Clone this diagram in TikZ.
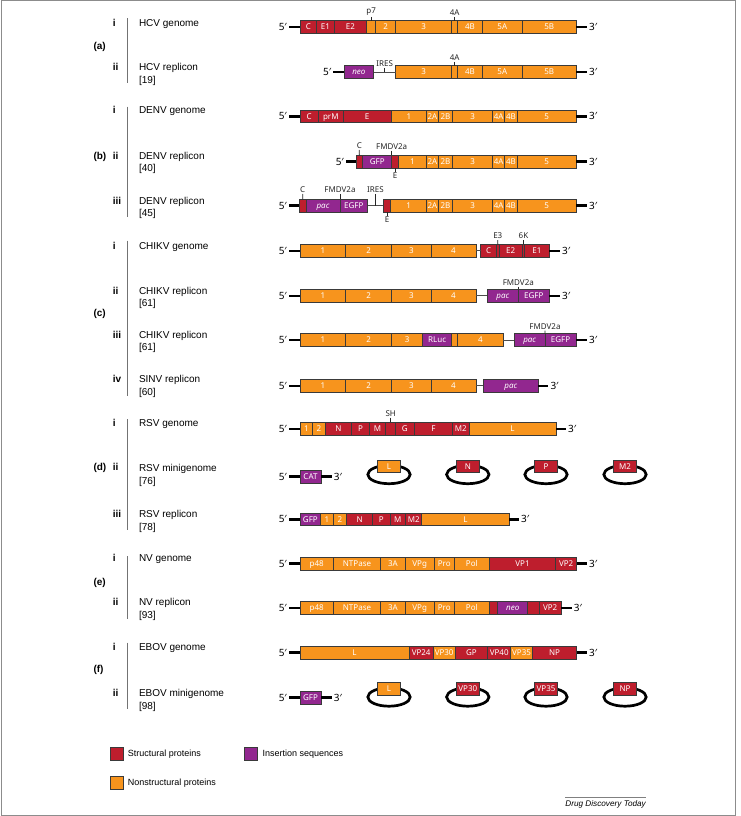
\documentclass[tikz,border=0pt]{standalone}
\usepackage{fontspec}
\setmainfont{Liberation Sans}
\newfontfamily\nsf{Noto Sans}
\usetikzlibrary{calc,shapes.geometric}
\definecolor{sred}{HTML}{BE1E2D}
\definecolor{sorg}{HTML}{F7941D}
\definecolor{spur}{HTML}{92278F}
\definecolor{segline}{HTML}{3A3A3A}
\newcommand\sg[6]{\pgfmathsetmacro\sgw{#3-#2}\node[sgbox,#5,minimum width=\sgw pt,anchor=west] (#1) at (#2,#4) {#6};}
\newcommand\plas[5]{\node[ring] (#1r) at (#2,#3+8.2) {};\node[pbox,#4] (#1b) at (#2,#3) {#5};}
\begin{document}
\begin{tikzpicture}[x=1pt,y=-1pt,
 sgbox/.style={draw=segline,line width=0.6pt,minimum height=12.7pt,inner sep=0pt,outer sep=0pt,text=white,font=\nsf\fontsize{8}{9}\selectfont,text height=5.8pt,text depth=0pt},
 R/.style={fill=sred}, O/.style={fill=sorg}, P/.style={fill=spur},
 pf/.style={font=\nsf\fontsize{10}{11}\selectfont,inner xsep=2pt,inner ysep=0pt,text height=7pt,text depth=0pt},
 bb/.style={line width=2.6pt,black},
 lnk/.style={line width=0.9pt,black!70},
 tk/.style={line width=0.8pt,black!85},
 lab/.style={font=\nsf\fontsize{8}{9}\selectfont,inner sep=1pt,text=black!85},
 ring/.style={ellipse,draw=black,line width=2.7pt,minimum width=42.4pt,minimum height=18.4pt,inner sep=0pt},
 pbox/.style={draw=segline,line width=0.6pt,minimum width=23pt,minimum height=12.5pt,inner sep=0pt,text=white,font=\nsf\fontsize{8}{9}\selectfont,text height=5.8pt,text depth=0pt},
 rn/.style={font=\fontsize{10}{12}\selectfont\bfseries,anchor=west,inner sep=0pt,text height=7.2pt,text depth=0pt},
 nm/.style={font=\fontsize{10}{12}\selectfont,anchor=west,inner sep=0pt,text height=7.2pt,text depth=0pt},
 vb/.style={line width=1.3pt,black!55},
 lg/.style={font=\fontsize{9}{11}\selectfont,anchor=west,inner sep=0pt,text height=6.5pt,text depth=0pt},
 lsq/.style={draw=segline,line width=0.7pt,minimum width=13.6pt,minimum height=13.6pt,inner sep=0pt}]
\useasboundingbox (0,0) rectangle (740,816);
\fill[white] (0,0) rectangle (740,816);
\draw[black!45,line width=0.8pt] (1.2,0.8) rectangle (735,815);

% ---------------- left labels ----------------
\node[rn] (la) at (93.3,45.7) {(a)};
\node[rn] (lai) at (112.7,22.7) {i};
\node[rn] (laii) at (112.7,66.7) {ii};
\draw[vb] (127.7,18.3) -- (127.7,82.7);
\node[nm] (tai) at (138.8,22.7) {HCV genome};
\node[nm] (taii) at (138.8,66.7) {HCV replicon};
\node[nm] (taiir) at (138.8,79.5) {[19]};

\node[rn] (lb) at (93.3,155.7) {(b)};
\node[rn] (lbi) at (112.7,110) {i};
\node[rn] (lbii) at (112.7,155.7) {ii};
\node[rn] (lbiii) at (112.7,201) {iii};
\draw[vb] (127.7,106.7) -- (127.7,217.3);
\node[nm] (tbi) at (138.8,110) {DENV genome};
\node[nm] (tbii) at (138.8,155.7) {DENV replicon};
\node[nm] (tbiir) at (138.8,167.5) {[40]};
\node[nm] (tbiii) at (138.8,201) {DENV replicon};
\node[nm] (tbiiir) at (138.8,213) {[45]};

\node[rn] (lc) at (93.3,313.3) {(c)};
\node[rn] (lci) at (112.7,245.7) {i};
\node[rn] (lcii) at (112.7,290.7) {ii};
\node[rn] (lciii) at (112.7,335.3) {iii};
\node[rn] (lciv) at (112.7,379.3) {iv};
\draw[vb] (127.7,240.7) -- (127.7,395.7);
\node[nm] (tci) at (138.8,245.7) {CHIKV genome};
\node[nm] (tcii) at (138.8,290.7) {CHIKV replicon};
\node[nm] (tciir) at (138.8,302.5) {[61]};
\node[nm] (tciii) at (138.8,335.3) {CHIKV replicon};
\node[nm] (tciiir) at (138.8,347.3) {[61]};
\node[nm] (tciv) at (138.8,379.3) {SINV replicon};
\node[nm] (tcivr) at (138.8,392) {[60]};

\node[rn] (ld) at (93.3,467.3) {(d)};
\node[rn] (ldi) at (112.7,423.3) {i};
\node[rn] (ldii) at (112.7,467.3) {ii};
\node[rn] (ldiii) at (112.7,514) {iii};
\draw[vb] (127.7,419.3) -- (127.7,530);
\node[nm] (tdi) at (138.8,423.3) {RSV genome};
\node[nm] (tdii) at (138.8,468) {RSV minigenome};
\node[nm] (tdiir) at (138.8,481) {[76]};
\node[nm] (tdiii) at (138.8,514) {RSV replicon};
\node[nm] (tdiiir) at (138.8,526.7) {[78]};

\node[rn] (le) at (93.3,581.7) {(e)};
\node[rn] (lei) at (112.7,558.3) {i};
\node[rn] (leii) at (112.7,602.3) {ii};
\draw[vb] (127.7,556) -- (127.7,619);
\node[nm] (tei) at (138.8,558.3) {NV genome};
\node[nm] (teii) at (138.8,602.3) {NV replicon};
\node[nm] (teiir) at (138.8,615) {[93]};

\node[rn] (lf) at (93.3,669.3) {(f)};
\node[rn] (lfi) at (112.7,646.7) {i};
\node[rn] (lfii) at (112.7,693) {ii};
\draw[vb] (127.7,642.7) -- (127.7,709);
\node[nm] (tfi) at (138.8,646.7) {EBOV genome};
\node[nm] (tfii) at (138.8,693) {EBOV minigenome};
\node[nm] (tfiir) at (138.8,706) {[98]};

% ---------------- (a) i HCV genome ----------------
\node[pf,anchor=east] (a1p) at (289,27) {5′};
\sg{a1c}{300}{316.7}{27}{R}{C}
\sg{a1e1}{316.7}{334.3}{27}{R}{E1}
\sg{a1e2}{334.3}{366.7}{27}{R}{E2}
\sg{a1p7}{366.7}{375.7}{27}{O}{}
\sg{a1n2}{375.7}{395.7}{27}{O}{2}
\sg{a1n3}{395.7}{451.7}{27}{O}{3}
\sg{a1n4a}{451.7}{457.7}{27}{O}{}
\sg{a1n4b}{457.7}{482.3}{27}{O}{4B}
\sg{a1n5a}{482.3}{522.3}{27}{O}{5A}
\sg{a1n5b}{522.3}{576}{27}{O}{5B}
\node[pf,anchor=west] (a1q) at (587,27) {3′};
\draw[bb] (a1p.east) -- (a1c.west);
\draw[bb] (a1n5b.east) -- (a1q.west);
\node[lab,anchor=south] (a1lp7) at (371.2,17) {p7};
\draw[tk] (a1lp7.south) -- (a1p7.north);
\node[lab,anchor=south] (a1l4a) at (454.7,17) {4A};
\draw[tk] (a1l4a.south) -- (a1n4a.north);

% ---------------- (a) ii HCV replicon ----------------
\node[pf,anchor=east] (a2p) at (333.3,72) {5′};
\sg{a2neo}{344}{373.7}{72}{P}{\itshape neo}
\sg{a2n3}{395.7}{451.7}{72}{O}{3}
\sg{a2n4a}{451.7}{457.7}{72}{O}{}
\sg{a2n4b}{457.7}{482.3}{72}{O}{4B}
\sg{a2n5a}{482.3}{522.3}{72}{O}{5A}
\sg{a2n5b}{522.3}{576}{72}{O}{5B}
\node[pf,anchor=west] (a2q) at (587,72) {3′};
\draw[bb] (a2p.east) -- (a2neo.west);
\draw[bb] (a2n5b.east) -- (a2q.west);
\draw[lnk] (a2neo.east) -- (a2n3.west);
\coordinate (a2mid) at ($(a2neo.east)!0.5!(a2n3.west)$);
\node[lab,anchor=south] (a2lires) at ($(a2mid)+(0,-4)$) {IRES};
\draw[tk] (a2lires.south) -- (a2mid);
\node[lab,anchor=south] (a2l4a) at (454.7,62) {4A};
\draw[tk] (a2l4a.south) -- (a2n4a.north);

% ---------------- (b) i DENV genome ----------------
\node[pf,anchor=east] (b1p) at (289,116.3) {5′};
\sg{b1c}{300}{318.3}{116.3}{R}{C}
\sg{b1prm}{318.3}{343.3}{116.3}{R}{prM}
\sg{b1e}{343.3}{391}{116.3}{R}{E}
\sg{b1n1}{391}{426.7}{116.3}{O}{1}
\sg{b1n2a}{426.7}{438.3}{116.3}{O}{2A}
\sg{b1n2b}{438.3}{452.7}{116.3}{O}{2B}
\sg{b1n3}{452.7}{492.7}{116.3}{O}{3}
\sg{b1n4a}{492.7}{504.7}{116.3}{O}{4A}
\sg{b1n4b}{504.7}{517.3}{116.3}{O}{4B}
\sg{b1n5}{517.3}{576}{116.3}{O}{5}
\node[pf,anchor=west] (b1q) at (587,116.3) {3′};
\draw[bb] (b1p.east) -- (b1c.west);
\draw[bb] (b1n5.east) -- (b1q.west);

% ---------------- (b) ii DENV replicon [40] ----------------
\node[pf,anchor=east] (b2p) at (346,161.7) {5′};
\sg{b2c}{356}{362.7}{161.7}{R}{}
\sg{b2gfp}{362.7}{391.7}{161.7}{P}{GFP}
\sg{b2e}{391.7}{398.3}{161.7}{R}{}
\sg{b2n1}{398.3}{426.7}{161.7}{O}{1}
\sg{b2n2a}{426.7}{438.3}{161.7}{O}{2A}
\sg{b2n2b}{438.3}{452.7}{161.7}{O}{2B}
\sg{b2n3}{452.7}{492.7}{161.7}{O}{3}
\sg{b2n4a}{492.7}{504.7}{161.7}{O}{4A}
\sg{b2n4b}{504.7}{517.3}{161.7}{O}{4B}
\sg{b2n5}{517.3}{576}{161.7}{O}{5}
\node[pf,anchor=west] (b2q) at (587,161.7) {3′};
\draw[bb] (b2p.east) -- (b2c.west);
\draw[bb] (b2n5.east) -- (b2q.west);
\node[lab,anchor=south] (b2lc) at (359.3,150) {C};
\draw[tk] (b2lc.south) -- (b2c.north);
\node[lab,anchor=south] (b2lfm) at (391.7,150.5) {FMDV2a};
\draw[tk] (b2lfm.south) -- (b2gfp.north east);
\node[lab,anchor=north] (b2le) at (395,172) {E};
\draw[tk] (b2e.south) -- (b2le.north);

% ---------------- (b) iii DENV replicon [45] ----------------
\node[pf,anchor=east] (b3p) at (289,205.7) {5′};
\sg{b3c}{299.3}{306}{205.7}{R}{}
\sg{b3pac}{306}{340}{205.7}{P}{\itshape pac}
\sg{b3egfp}{340}{367.7}{205.7}{P}{EGFP}
\sg{b3e}{383.3}{390.7}{205.7}{R}{}
\sg{b3n1}{390.7}{426.7}{205.7}{O}{1}
\sg{b3n2a}{426.7}{438.3}{205.7}{O}{2A}
\sg{b3n2b}{438.3}{452.7}{205.7}{O}{2B}
\sg{b3n3}{452.7}{492.7}{205.7}{O}{3}
\sg{b3n4a}{492.7}{504.7}{205.7}{O}{4A}
\sg{b3n4b}{504.7}{517.3}{205.7}{O}{4B}
\sg{b3n5}{517.3}{576}{205.7}{O}{5}
\node[pf,anchor=west] (b3q) at (587,205.7) {3′};
\draw[bb] (b3p.east) -- (b3c.west);
\draw[bb] (b3n5.east) -- (b3q.west);
\draw[lnk] (b3egfp.east) -- (b3e.west);
\coordinate (b3mid) at ($(b3egfp.east)!0.5!(b3e.west)$);
\node[lab,anchor=south] (b3lc) at (302.7,194) {C};
\draw[tk] (b3lc.south) -- (b3c.north);
\node[lab,anchor=south] (b3lfm) at (340,194) {FMDV2a};
\draw[tk] (b3lfm.south) -- (b3pac.north east);
\node[lab,anchor=south] (b3lires) at ($(b3mid)+(0,-11.7)$) {IRES};
\draw[tk] (b3lires.south) -- (b3mid);
\node[lab,anchor=north] (b3le) at (387,216) {E};
\draw[tk] (b3e.south) -- (b3le.north);

% ---------------- (c) i CHIKV genome ----------------
\node[pf,anchor=east] (c1p) at (289,250.8) {5′};
\sg{c1n1}{300}{345.7}{250.8}{O}{1}
\sg{c1n2}{345.7}{391.7}{250.8}{O}{2}
\sg{c1n3}{391.7}{431}{250.8}{O}{3}
\sg{c1n4}{431}{476}{250.8}{O}{4}
\sg{c1c}{480.7}{496.7}{250.8}{R}{C}
\sg{c1e3}{496.7}{499}{250.8}{R}{}
\sg{c1e2}{499}{522.3}{250.8}{R}{E2}
\sg{c1k6}{522.3}{524.7}{250.8}{R}{}
\sg{c1e1}{524.7}{549.3}{250.8}{R}{E1}
\node[pf,anchor=west] (c1q) at (560,250.8) {3′};
\draw[bb] (c1p.east) -- (c1n1.west);
\draw[bb] (c1e1.east) -- (c1q.west);
\draw[lnk] (c1n4.east) -- (c1c.west);
\node[lab,anchor=south] (c1le3) at (497.8,240) {E3};
\draw[tk] (c1le3.south) -- (c1e3.north);
\node[lab,anchor=south] (c1l6k) at (523.5,240) {6K};
\draw[tk] (c1l6k.south) -- (c1k6.north);

% ---------------- (c) ii CHIKV replicon ----------------
\node[pf,anchor=east] (c2p) at (289,295.8) {5′};
\sg{c2n1}{300}{345.7}{295.8}{O}{1}
\sg{c2n2}{345.7}{391.7}{295.8}{O}{2}
\sg{c2n3}{391.7}{431}{295.8}{O}{3}
\sg{c2n4}{431}{476}{295.8}{O}{4}
\sg{c2pac}{487.3}{518.3}{295.8}{P}{\itshape pac}
\sg{c2egfp}{518.3}{549.3}{295.8}{P}{EGFP}
\node[pf,anchor=west] (c2q) at (560,295.8) {3′};
\draw[bb] (c2p.east) -- (c2n1.west);
\draw[bb] (c2egfp.east) -- (c2q.west);
\draw[lnk] (c2n4.east) -- (c2pac.west);
\node[lab,anchor=south] (c2lfm) at (518.3,286.5) {FMDV2a};
\draw[tk] (c2lfm.south) -- (c2pac.north east);

% ---------------- (c) iii CHIKV replicon ----------------
\node[pf,anchor=east] (c3p) at (289,340) {5′};
\sg{c3n1}{300}{345.7}{340}{O}{1}
\sg{c3n2}{345.7}{391.7}{340}{O}{2}
\sg{c3n3}{391.7}{422.7}{340}{O}{3}
\sg{c3rl}{422.7}{451.7}{340}{P}{RLuc}
\sg{c3sm}{451.7}{457.7}{340}{O}{}
\sg{c3n4}{457.7}{503.3}{340}{O}{4}
\sg{c3pac}{514.3}{545}{340}{P}{\itshape pac}
\sg{c3egfp}{545}{576}{340}{P}{EGFP}
\node[pf,anchor=west] (c3q) at (587,340) {3′};
\draw[bb] (c3p.east) -- (c3n1.west);
\draw[bb] (c3egfp.east) -- (c3q.west);
\draw[lnk] (c3n4.east) -- (c3pac.west);
\node[lab,anchor=south] (c3lfm) at (545,330.7) {FMDV2a};
\draw[tk] (c3lfm.south) -- (c3pac.north east);

% ---------------- (c) iv SINV replicon ----------------
\node[pf,anchor=east] (c4p) at (289,385.8) {5′};
\sg{c4n1}{300}{345.7}{385.8}{O}{1}
\sg{c4n2}{345.7}{391.7}{385.8}{O}{2}
\sg{c4n3}{391.7}{431}{385.8}{O}{3}
\sg{c4n4}{431}{476}{385.8}{O}{4}
\sg{c4pac}{483.3}{538.3}{385.8}{P}{\itshape pac}
\node[pf,anchor=west] (c4q) at (548.3,385.8) {3′};
\draw[bb] (c4p.east) -- (c4n1.west);
\draw[bb] (c4pac.east) -- (c4q.west);
\draw[lnk] (c4n4.east) -- (c4pac.west);

% ---------------- (d) i RSV genome ----------------
\node[pf,anchor=east] (d1p) at (289,428.8) {5′};
\sg{d1n1}{300}{312.7}{428.8}{O}{1}
\sg{d1n2}{312.7}{325}{428.8}{O}{2}
\sg{d1n}{325}{351.7}{428.8}{R}{N}
\sg{d1pp}{351.7}{369.3}{428.8}{R}{P}
\sg{d1m}{369.3}{385.7}{428.8}{R}{M}
\sg{d1sh}{385.7}{395.7}{428.8}{R}{}
\sg{d1g}{395.7}{414}{428.8}{R}{G}
\sg{d1f}{414}{452.7}{428.8}{R}{F}
\sg{d1m2}{452.7}{469}{428.8}{R}{M2}
\sg{d1l}{469}{556}{428.8}{O}{L}
\node[pf,anchor=west] (d1q) at (566,428.8) {3′};
\draw[bb] (d1p.east) -- (d1n1.west);
\draw[bb] (d1l.east) -- (d1q.west);
\node[lab,anchor=south] (d1lsh) at (390.7,417.5) {SH};
\draw[tk] (d1lsh.south) -- (d1sh.north);

% ---------------- (d) ii RSV minigenome ----------------
\node[pf,anchor=east] (d2p) at (289,476.5) {5′};
\sg{d2cat}{300}{321}{476.5}{P}{CAT}
\node[pf,anchor=west] (d2q) at (331.7,476.5) {3′};
\draw[bb] (d2p.east) -- (d2cat.west);
\draw[bb] (d2cat.east) -- (d2q.west);
\plas{d2l}{389}{466.3}{O}{L}
\plas{d2n}{467.8}{466.3}{R}{N}
\plas{d2pp}{546}{466.3}{R}{P}
\plas{d2m}{625}{466.3}{R}{M2}

% ---------------- (d) iii RSV replicon ----------------
\node[pf,anchor=east] (d3p) at (289,519.2) {5′};
\sg{d3gfp}{300}{320.7}{519.2}{P}{GFP}
\sg{d3n1}{320.7}{333.3}{519.2}{O}{1}
\sg{d3n2}{333.3}{346.7}{519.2}{O}{2}
\sg{d3n}{346.7}{372.7}{519.2}{R}{N}
\sg{d3pp}{372.7}{390}{519.2}{R}{P}
\sg{d3m}{390}{405.7}{519.2}{R}{M}
\sg{d3m2}{405.7}{421.7}{519.2}{R}{M2}
\sg{d3l}{421.7}{509}{519.2}{O}{L}
\node[pf,anchor=west] (d3q) at (519,519.2) {3′};
\draw[bb] (d3p.east) -- (d3gfp.west);
\draw[bb] (d3l.east) -- (d3q.west);

% ---------------- (e) i NV genome ----------------
\node[pf,anchor=east] (e1p) at (289,563.7) {5′};
\sg{e1p48}{300}{333.3}{563.7}{O}{p48}
\sg{e1nt}{333.3}{380.7}{563.7}{O}{NTPase}
\sg{e1a3}{380.7}{405}{563.7}{O}{3A}
\sg{e1vpg}{405}{434.3}{563.7}{O}{VPg}
\sg{e1pro}{434.3}{454.3}{563.7}{O}{Pro}
\sg{e1pol}{454.3}{489.3}{563.7}{O}{Pol}
\sg{e1vp1}{489.3}{555.7}{563.7}{R}{VP1}
\sg{e1vp2}{555.7}{576.7}{563.7}{R}{VP2}
\node[pf,anchor=west] (e1q) at (587,563.7) {3′};
\draw[bb] (e1p.east) -- (e1p48.west);
\draw[bb] (e1vp2.east) -- (e1q.west);

% ---------------- (e) ii NV replicon ----------------
\node[pf,anchor=east] (e2p) at (289,608) {5′};
\sg{e2p48}{300}{333.3}{608}{O}{p48}
\sg{e2nt}{333.3}{380.7}{608}{O}{NTPase}
\sg{e2a3}{380.7}{405}{608}{O}{3A}
\sg{e2vpg}{405}{434.3}{608}{O}{VPg}
\sg{e2pro}{434.3}{454.3}{608}{O}{Pro}
\sg{e2pol}{454.3}{489.3}{608}{O}{Pol}
\sg{e2r1}{489.3}{497.7}{608}{R}{}
\sg{e2neo}{497.7}{527.7}{608}{P}{\itshape neo}
\sg{e2r2}{527.7}{539.3}{608}{R}{}
\sg{e2vp2}{539.3}{561}{608}{R}{VP2}
\node[pf,anchor=west] (e2q) at (571.7,608) {3′};
\draw[bb] (e2p.east) -- (e2p48.west);
\draw[bb] (e2vp2.east) -- (e2q.west);

% ---------------- (f) i EBOV genome ----------------
\node[pf,anchor=east] (f1p) at (289,652.7) {5′};
\sg{f1l}{300}{409}{652.7}{O}{L}
\sg{f1vp24}{409}{433.3}{652.7}{R}{VP24}
\sg{f1vp30}{433.3}{455}{652.7}{O}{VP30}
\sg{f1gp}{455}{487.7}{652.7}{R}{GP}
\sg{f1vp40}{487.7}{510.7}{652.7}{R}{VP40}
\sg{f1vp35}{510.7}{532.3}{652.7}{O}{VP35}
\sg{f1np}{532.3}{576.7}{652.7}{R}{NP}
\node[pf,anchor=west] (f1q) at (587,652.7) {3′};
\draw[bb] (f1p.east) -- (f1l.west);
\draw[bb] (f1np.east) -- (f1q.west);

% ---------------- (f) ii EBOV minigenome ----------------
\node[pf,anchor=east] (f2p) at (289,697.5) {5′};
\sg{f2gfp}{300}{321}{697.5}{P}{GFP}
\node[pf,anchor=west] (f2q) at (331.7,697.5) {3′};
\draw[bb] (f2p.east) -- (f2gfp.west);
\draw[bb] (f2gfp.east) -- (f2q.west);
\plas{f2l}{389}{688.8}{O}{L}
\plas{f2vp30}{467.8}{688.8}{R}{VP30}
\plas{f2vp35}{546}{688.8}{R}{VP35}
\plas{f2np}{625}{688.8}{R}{NP}

% ---------------- legend ----------------
\node[lsq,fill=sred] (kr) at (116.7,753.7) {};
\node[lg] (krt) at (127.7,753.3) {Structural proteins};
\node[lsq,fill=spur] (kp) at (250.7,753.7) {};
\node[lg] (kpt) at (262.3,753.3) {Insertion sequences};
\node[lsq,fill=sorg] (ko) at (116.7,782.8) {};
\node[lg] (kot) at (127.7,782.3) {Nonstructural proteins};
\node[font=\fontsize{8.2}{10}\selectfont\itshape,anchor=east,inner sep=0pt] (ddt) at (646,804) {Drug Discovery Today};
\draw[black!50,line width=0.5pt] (565,797.5) -- (646,797.5);
\end{tikzpicture}
\end{document}
